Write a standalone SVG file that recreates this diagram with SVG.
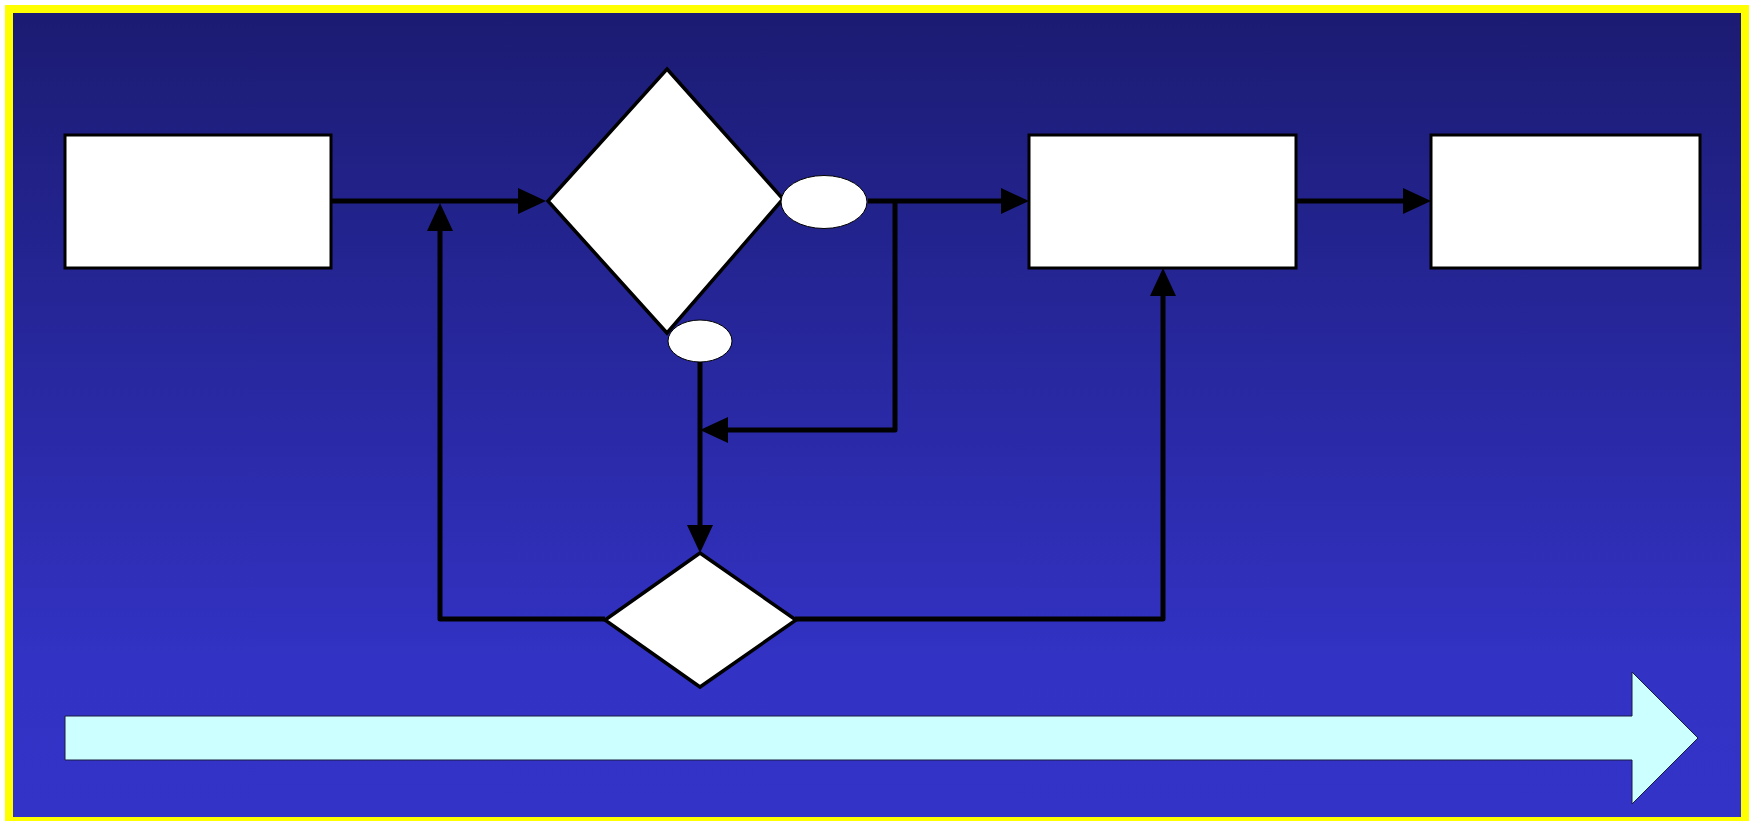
<svg xmlns="http://www.w3.org/2000/svg" width="1749" height="821" viewBox="0 0 1749 821">
  <defs>
    <linearGradient id="bg" x1="0" y1="0" x2="0" y2="1">
      <stop offset="0" stop-color="#1b1b72"/>
      <stop offset="0.8" stop-color="#3232c4"/>
      <stop offset="1" stop-color="#3333c8"/>
    </linearGradient>
    <marker id="ah" markerUnits="userSpaceOnUse" viewBox="0 0 28 26" refX="18" refY="13" markerWidth="28" markerHeight="26" orient="auto">
      <path d="M0,0 L28,13 L0,26 Z" fill="#000"/>
    </marker>
    <style>
      .box { fill: #fff; stroke: #000; stroke-width: 3; }
      .dia { fill: #fff; stroke: #000; stroke-width: 3.5; stroke-linejoin: miter; }
      .ell { fill: #fff; stroke: #000; stroke-width: 1; }
      .con { fill: none; stroke: #000; stroke-width: 5; stroke-linejoin: round; stroke-linecap: butt; }
      .arr { marker-end: url(#ah); }
    </style>
  </defs>

  <rect x="9" y="9" width="1736" height="812" fill="url(#bg)" stroke="#ffff00" stroke-width="8"/>

  <g id="connectors">
    <path class="con arr" d="M331,201 L536,201"/>
    <path class="con arr" d="M605,619 L440,619 L440,213"/>
    <path class="con arr" d="M868,201 L1019,201"/>
    <path class="con arr" d="M895,201 L895,430 L710,430"/>
    <path class="con arr" d="M700,362 L700,543"/>
    <path class="con arr" d="M795,619 L1163,619 L1163,278"/>
    <path class="con arr" d="M1296,201 L1421,201"/>
  </g>

  <g id="box1"><rect class="box" x="65" y="135" width="266" height="133"/></g>
  <g id="box2"><rect class="box" x="1029" y="135" width="267" height="133"/></g>
  <g id="box3"><rect class="box" x="1431" y="135" width="269" height="133"/></g>

  <g id="decision1"><polygon class="dia" points="667,69 783,199 667,333 548,201"/></g>
  <g id="connector-ellipse1"><ellipse class="ell" cx="824" cy="202" rx="43" ry="26.5"/></g>
  <g id="connector-ellipse2"><ellipse class="ell" cx="700" cy="341" rx="32" ry="21"/></g>

  <g id="decision2"><polygon class="dia" points="700,553 796,620 700,687 605,620"/></g>

  <g id="timeline-arrow">
    <polygon points="65,716 1632,716 1632,672 1698,738 1632,804 1632,760 65,760" fill="#ccffff" stroke="#1a1a40" stroke-width="1"/>
  </g>
</svg>
